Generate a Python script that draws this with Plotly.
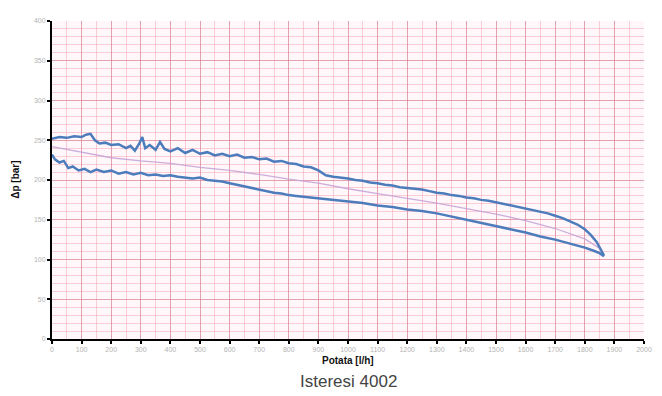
import plotly.graph_objects as go

# Upper branch
up_x = [0, 25, 50, 75, 100, 115, 130, 145, 160, 180, 200, 225, 250, 265, 280, 295, 305, 315, 330, 350,
        365, 380, 400, 425, 450, 475, 500, 525, 550, 575, 600, 625, 650, 675, 700, 725, 750, 775, 800, 825,
        850, 875, 900, 925, 950, 975, 1000, 1025, 1050, 1075, 1100, 1125, 1150, 1175, 1200, 1225, 1250, 1275,
        1300, 1325, 1350, 1375, 1400, 1425, 1450, 1475, 1500, 1525, 1550, 1575, 1600, 1625, 1650, 1675, 1700,
        1725, 1750, 1775, 1800, 1820, 1840, 1855, 1865]
up_y = [252, 254, 253, 255, 254, 257, 258, 250, 246, 247, 244, 245, 240, 243, 237, 246, 254, 240, 244, 238,
        248, 239, 236, 240, 234, 238, 233, 235, 231, 233, 230, 232, 228, 229, 226, 227, 223, 224, 221, 220,
        217, 216, 212, 206, 204, 203, 202, 200, 199, 197, 196, 194, 193, 191, 190, 189, 188, 186,
        184, 183, 181, 180, 178, 177, 175, 174, 172, 170, 168, 166, 164, 162, 160, 158, 155,
        152, 148, 144, 138, 131, 122, 112, 105]

# Lower branch
lo_x = [0, 10, 25, 40, 55, 70, 90, 110, 130, 150, 175, 200, 225, 250, 275, 300, 325, 350, 375, 400,
        425, 450, 475, 500, 525, 550, 575, 600, 625, 650, 675, 700, 725, 750, 775, 800, 825, 850, 875, 900,
        925, 950, 975, 1000, 1050, 1100, 1150, 1200, 1250, 1300, 1350, 1400, 1450, 1500, 1550, 1600, 1650,
        1700, 1750, 1800, 1830, 1850, 1865]
lo_y = [232, 226, 222, 224, 215, 217, 212, 214, 210, 213, 210, 212, 208, 210, 207, 209, 206, 207, 205, 206,
        204, 203, 202, 203, 200, 199, 198, 196, 194, 192, 190, 188, 186, 184, 183, 181, 180, 179, 178, 177,
        176, 175, 174, 173, 171, 168, 166, 163, 161, 158, 154, 150, 146, 142, 138, 134, 129,
        125, 120, 115, 111, 108, 104]

# Mean curve
mid_x = [0, 100, 200, 300, 400, 500, 600, 700, 800, 900, 1000, 1100, 1200, 1300, 1400, 1500, 1600, 1700, 1800, 1850]
mid_y = [242, 235, 228, 224, 221, 216, 212, 207, 201, 196, 189, 183, 177, 171, 164, 157, 149, 139, 126, 114]

x_ticks = list(range(0, 2001, 100))
y_ticks = list(range(0, 401, 50))

blue = "#4c7cbc"
fig = go.Figure()
fig.add_trace(go.Scatter(x=mid_x, y=mid_y, mode="lines",
                         line=dict(color="rgba(195,160,215,0.85)", width=1.3), showlegend=False))
fig.add_trace(go.Scatter(x=up_x, y=up_y, mode="lines",
                         line=dict(color=blue, width=2.5), showlegend=False))
fig.add_trace(go.Scatter(x=lo_x, y=lo_y, mode="lines",
                         line=dict(color=blue, width=2.5), showlegend=False))

tickfont = dict(family="Liberation Sans", size=7, color="#b3b3b3")
major = "rgba(205,120,140,0.5)"
minor = "rgba(245,140,160,0.4)"
fig.update_xaxes(range=[0, 2000], tickvals=x_ticks, ticktext=[str(v) for v in x_ticks],
                 showline=True, linecolor="black", linewidth=2,
                 ticks="outside", ticklen=3, tickwidth=2, tickcolor="black",
                 showgrid=True, gridcolor=major, gridwidth=1,
                 minor=dict(dtick=50, showgrid=True, gridcolor=minor),
                 tickfont=tickfont, zeroline=False)
fig.update_yaxes(range=[0, 400], tickvals=y_ticks, ticktext=[str(v) for v in y_ticks],
                 showline=True, linecolor="black", linewidth=2,
                 ticks="outside", ticklen=3, tickwidth=2, tickcolor="black",
                 showgrid=True, gridcolor=major, gridwidth=1,
                 minor=dict(dtick=10, showgrid=True, gridcolor=minor),
                 tickfont=tickfont, zeroline=False)

fig.update_layout(
    width=662, height=396,
    margin=dict(l=52, r=10, t=21, b=57),
    plot_bgcolor="#fff7f9", paper_bgcolor="white",
    annotations=[
        dict(text="<b>Potata [l/h]</b>", x=0.5, y=-0.068, xref="paper", yref="paper",
             showarrow=False, font=dict(family="Liberation Sans Narrow, Liberation Sans", size=10, color="#111"),
             xanchor="center", yanchor="middle"),
        dict(text="Isteresi 4002", x=0.5, y=-0.135, xref="paper", yref="paper",
             showarrow=False, font=dict(family="Liberation Sans", size=17, color="#444"),
             xanchor="center", yanchor="middle"),
        dict(text="<b>Δp [bar]</b>", x=-0.063, y=0.5, xref="paper", yref="paper", textangle=-90,
             showarrow=False, font=dict(family="Liberation Sans Narrow, Liberation Sans", size=10, color="#111"),
             xanchor="center", yanchor="middle"),
    ],
)

fig.write_html("out.html")
